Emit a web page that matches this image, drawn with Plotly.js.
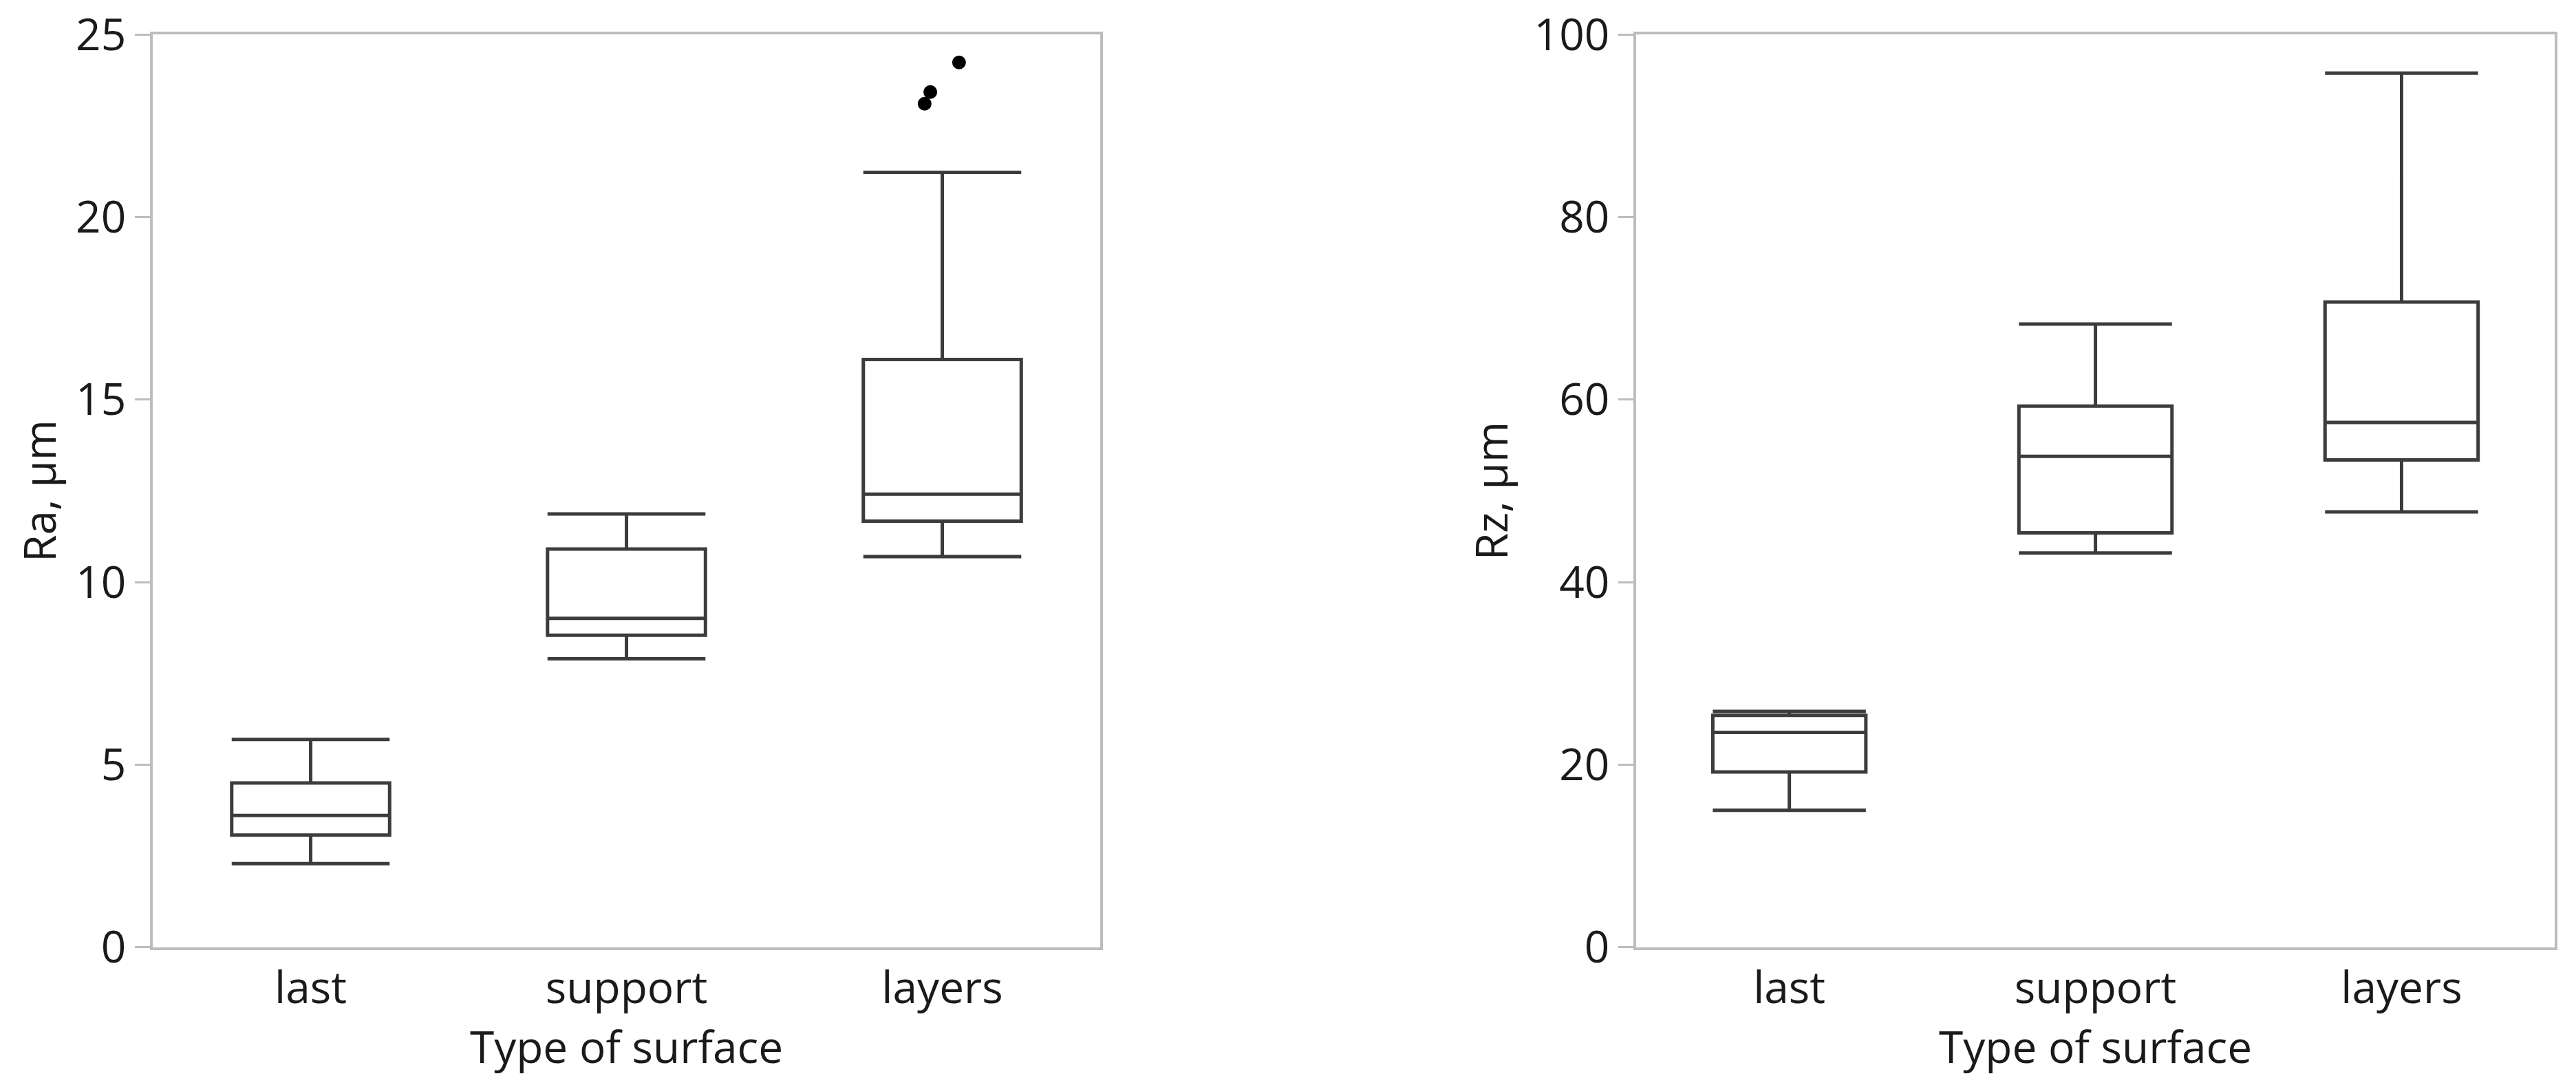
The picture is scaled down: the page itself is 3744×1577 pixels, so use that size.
<!DOCTYPE html>
<html><head><meta charset="utf-8">
<script src="https://cdn.plot.ly/plotly-3.0.1.min.js"></script>
<style>html,body{margin:0;padding:0;background:#fff}#chart{width:3744px;height:1577px}</style>
</head><body><div id="chart"></div><script>
// categories and tick labels
const categories = ["last", "support", "layers"];
const categoryIndex = [0, 1, 2];

// Ra box statistics (µm)
const raQ1 = [3.07, 8.55, 11.67];
const raMedian = [3.61, 9.01, 12.41];
const raQ3 = [4.50, 10.91, 16.10];
const raLowerWhisker = [2.29, 7.90, 10.70];
const raUpperWhisker = [5.69, 11.87, 21.23];
// Ra outliers (layers)
const raOutliers = [24.24, 23.43, 23.11];
const raOutlierCategory = [2, 2, 2];
const raOutlierJitter = [0.053, -0.038, -0.056];

// Rz box statistics (µm)
const rzQ1 = [19.2, 45.4, 53.4];
const rzMedian = [23.55, 53.8, 57.5];
const rzQ3 = [25.4, 59.3, 70.7];
const rzLowerWhisker = [15.0, 43.2, 47.7];
const rzUpperWhisker = [25.85, 68.3, 95.8];

const boxLine = {color: "#3c3c3c", width: 5};
const FONT = "Open Sans, Noto Sans, sans-serif";

const traces = [
  {type: "box", x: categoryIndex, q1: raQ1, median: raMedian, q3: raQ3,
   lowerfence: raLowerWhisker, upperfence: raUpperWhisker,
   width: 0.5, whiskerwidth: 1, boxpoints: false, line: boxLine,
   fillcolor: "rgba(255,255,255,0)", xaxis: "x", yaxis: "y", showlegend: false, hoverinfo: "skip"},
  {type: "scatter", mode: "markers",
   x: raOutlierCategory.map((c, i) => c + raOutlierJitter[i]), y: raOutliers,
   marker: {color: "#000", size: 20}, xaxis: "x", yaxis: "y", showlegend: false, hoverinfo: "skip"},
  {type: "box", x: categoryIndex, q1: rzQ1, median: rzMedian, q3: rzQ3,
   lowerfence: rzLowerWhisker, upperfence: rzUpperWhisker,
   width: 0.5, whiskerwidth: 1, boxpoints: false, line: boxLine,
   fillcolor: "rgba(255,255,255,0)", xaxis: "x2", yaxis: "y2", showlegend: false, hoverinfo: "skip"}
];

const xCommon = {
  range: [-0.5, 2.5], tickvals: categoryIndex, ticktext: categories,
  ticks: "", showgrid: false, zeroline: false,
  showline: true, mirror: true, linecolor: "#bdbdbd", linewidth: 4,
  tickfont: {family: FONT, size: 64, color: "#1a1a1a"},
  title: {text: "Type of surface", font: {family: FONT, size: 64, color: "#1a1a1a"}, standoff: 2},
  fixedrange: true
};
const yCommon = {
  showgrid: false, zeroline: false,
  showline: true, mirror: true, linecolor: "#bdbdbd", linewidth: 4,
  ticks: "outside", ticklen: 22, tickwidth: 3, tickcolor: "#bdbdbd",
  tickfont: {family: FONT, size: 64, color: "#1a1a1a"},
  fixedrange: true
};

const layout = {
  width: 3744, height: 1577,
  margin: {l: 0, r: 0, t: 0, b: 0},
  paper_bgcolor: "#fff", plot_bgcolor: "#fff",
  showlegend: false,
  xaxis: Object.assign({}, xCommon, {domain: [0.0593, 0.4271], anchor: "y"}),
  yaxis: Object.assign({}, yCommon, {domain: [0.127, 0.968], range: [0, 25], dtick: 5, anchor: "x",
    title: {text: "Ra, µm", font: {family: FONT, size: 64, color: "#1a1a1a"}, standoff: 9}}),
  xaxis2: Object.assign({}, xCommon, {domain: [0.6352, 0.9917], anchor: "y2"}),
  yaxis2: Object.assign({}, yCommon, {domain: [0.127, 0.968], range: [0, 100], dtick: 20, anchor: "x2",
    title: {text: "Rz, µm", font: {family: FONT, size: 64, color: "#1a1a1a"}, standoff: 18}})
};

Plotly.newPlot("chart", traces, layout, {staticPlot: true, displayModeBar: false});
</script></body></html>
